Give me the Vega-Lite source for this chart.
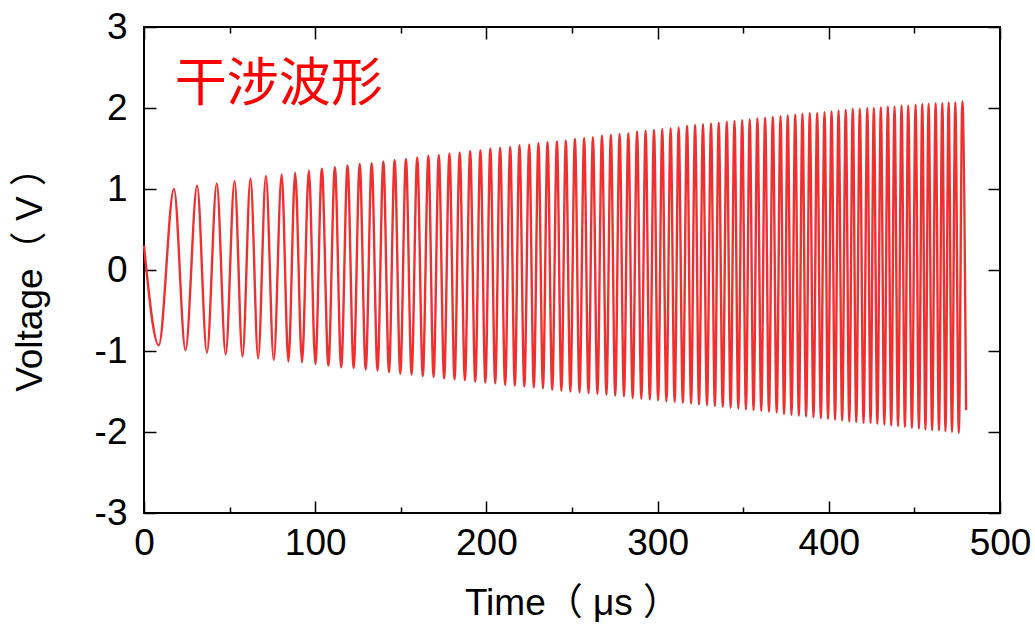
{
  "$schema": "https://vega.github.io/schema/vega-lite/v6.json",
  "width": 856,
  "height": 486,
  "autosize": {"type": "none"},
  "padding": {"left": 144, "top": 27, "right": 35, "bottom": 111},
  "background": "white",
  "config": {
    "view": {"stroke": "#000", "strokeWidth": 2},
    "axis": {
      "domain": false, "grid": false,
      "labelFont": "Liberation Sans", "labelFontSize": 37, "labelColor": "#000",
      "labelOverlap": false, "labelFlush": false,
      "titleFont": "Liberation Sans, Noto Sans CJK JP", "titleFontSize": 37,
      "titleFontWeight": "normal", "titleColor": "#000",
      "tickColor": "#000", "tickWidth": 1.5
    }
  },
  "resolve": {"axis": {"x": "independent", "y": "independent"}},
  "datasets": {
    "wave": [
      {"t":0,"v":0.3},{"t":8.6,"v":-0.93},
      {"t":17.5,"v":1.0},{"t":24.25,"v":-0.99},
      {"t":31.0,"v":1.04},{"t":36.75,"v":-1.02},
      {"t":42.5,"v":1.07},{"t":47.7,"v":-1.04},
      {"t":52.9,"v":1.10},{"t":57.55,"v":-1.07},
      {"t":62.2,"v":1.13},{"t":66.7,"v":-1.09},
      {"t":71.2,"v":1.16},{"t":75.8,"v":-1.11},
      {"t":80.4,"v":1.18},{"t":84.35,"v":-1.13},
      {"t":88.3,"v":1.20},{"t":92.3,"v":-1.14},
      {"t":96.3,"v":1.23},{"t":100.1,"v":-1.16},
      {"t":103.9,"v":1.25},{"t":107.7,"v":-1.18},
      {"t":111.5,"v":1.27},{"t":115.2,"v":-1.20},
      {"t":118.9,"v":1.29},{"t":122.45,"v":-1.21},
      {"t":126.0,"v":1.31},{"t":129.5,"v":-1.23},
      {"t":133.0,"v":1.32},{"t":136.4,"v":-1.24},
      {"t":139.8,"v":1.34},{"t":143.1,"v":-1.26},
      {"t":146.4,"v":1.36},{"t":149.7,"v":-1.28},
      {"t":153.0,"v":1.37},{"t":156.3,"v":-1.29},
      {"t":159.6,"v":1.39},{"t":162.85,"v":-1.31},
      {"t":166.1,"v":1.41},{"t":169.15,"v":-1.32},
      {"t":172.2,"v":1.42},{"t":175.3,"v":-1.34},
      {"t":178.4,"v":1.44},{"t":181.4,"v":-1.35},
      {"t":184.4,"v":1.45},{"t":187.45,"v":-1.36},
      {"t":190.5,"v":1.47},{"t":193.5,"v":-1.38},
      {"t":196.5,"v":1.48},{"t":199.4,"v":-1.39},
      {"t":202.3,"v":1.50},{"t":205.15,"v":-1.40},
      {"t":208.0,"v":1.51},{"t":210.95,"v":-1.42},
      {"t":213.9,"v":1.52},{"t":216.6,"v":-1.43},
      {"t":219.3,"v":1.54},{"t":222.15,"v":-1.44},
      {"t":225.0,"v":1.55},{"t":227.7,"v":-1.45},
      {"t":230.4,"v":1.57},{"t":233.05,"v":-1.46},
      {"t":235.7,"v":1.58},{"t":238.45,"v":-1.48},
      {"t":241.2,"v":1.59},{"t":243.8,"v":-1.49},
      {"t":246.4,"v":1.60},{"t":249.05,"v":-1.50},
      {"t":251.7,"v":1.62},{"t":254.4,"v":-1.51},
      {"t":257.1,"v":1.63},{"t":259.65,"v":-1.52},
      {"t":262.2,"v":1.64},{"t":264.85,"v":-1.53},
      {"t":267.5,"v":1.66},{"t":270.1,"v":-1.54},
      {"t":272.7,"v":1.67},{"t":275.25,"v":-1.55},
      {"t":277.8,"v":1.68},{"t":280.35,"v":-1.56},
      {"t":282.9,"v":1.69},{"t":285.45,"v":-1.58},
      {"t":288.0,"v":1.71},{"t":290.5,"v":-1.59},
      {"t":293.0,"v":1.72},{"t":295.45,"v":-1.60},
      {"t":297.9,"v":1.73},{"t":300.3,"v":-1.61},
      {"t":302.7,"v":1.74},{"t":305.15,"v":-1.62},
      {"t":307.6,"v":1.75},{"t":309.95,"v":-1.63},
      {"t":312.3,"v":1.76},{"t":314.75,"v":-1.64},
      {"t":317.2,"v":1.78},{"t":319.55,"v":-1.65},
      {"t":321.9,"v":1.79},{"t":324.2,"v":-1.66},
      {"t":326.5,"v":1.80},{"t":328.85,"v":-1.67},
      {"t":331.2,"v":1.81},{"t":333.45,"v":-1.68},
      {"t":335.7,"v":1.82},{"t":338.05,"v":-1.69},
      {"t":340.4,"v":1.83},{"t":342.65,"v":-1.70},
      {"t":344.9,"v":1.84},{"t":347.15,"v":-1.71},
      {"t":349.4,"v":1.85},{"t":351.6,"v":-1.72},
      {"t":353.8,"v":1.86},{"t":356.05,"v":-1.73},
      {"t":358.3,"v":1.87},{"t":360.55,"v":-1.74},
      {"t":362.8,"v":1.88},{"t":365.05,"v":-1.75},
      {"t":367.3,"v":1.89},{"t":369.55,"v":-1.76},
      {"t":371.8,"v":1.90},{"t":373.9,"v":-1.78},
      {"t":376.0,"v":1.91},{"t":378.2,"v":-1.79},
      {"t":380.4,"v":1.92},{"t":382.5,"v":-1.80},
      {"t":384.6,"v":1.93},{"t":386.75,"v":-1.81},
      {"t":388.9,"v":1.94},{"t":391.05,"v":-1.82},
      {"t":393.2,"v":1.94},{"t":395.35,"v":-1.83},
      {"t":397.5,"v":1.95},{"t":399.55,"v":-1.84},
      {"t":401.6,"v":1.96},{"t":403.65,"v":-1.85},
      {"t":405.7,"v":1.97},{"t":407.8,"v":-1.86},
      {"t":409.9,"v":1.98},{"t":411.95,"v":-1.87},
      {"t":414.0,"v":1.99},{"t":416.05,"v":-1.88},
      {"t":418.1,"v":1.99},{"t":420.3,"v":-1.89},
      {"t":422.5,"v":2.00},{"t":424.4,"v":-1.89},
      {"t":426.3,"v":2.00},{"t":428.35,"v":-1.90},
      {"t":430.4,"v":2.01},{"t":432.45,"v":-1.91},
      {"t":434.5,"v":2.02},{"t":436.45,"v":-1.92},
      {"t":438.4,"v":2.02},{"t":440.45,"v":-1.93},
      {"t":442.5,"v":2.03},{"t":444.45,"v":-1.94},
      {"t":446.4,"v":2.03},{"t":448.55,"v":-1.95},
      {"t":450.7,"v":2.04},{"t":452.65,"v":-1.96},
      {"t":454.6,"v":2.05},{"t":456.45,"v":-1.97},
      {"t":458.3,"v":2.05},{"t":460.35,"v":-1.98},
      {"t":462.4,"v":2.06},{"t":464.35,"v":-1.98},
      {"t":466.3,"v":2.06},{"t":468.15,"v":-1.99},
      {"t":470.0,"v":2.07},{"t":471.95,"v":-2.00},
      {"t":473.9,"v":2.07},{"t":475.95,"v":-2.01},
      {"t":478.0,"v":2.08},{"t":480.2,"v":-1.73}
    ],
    "note": [{"label": "干涉波形", "t": 18, "v": 2.28}]
  },
  "layer": [
    {
      "data": {"name": "wave"},
      "mark": {"type": "line", "interpolate": "monotone", "color": "#f03030", "strokeWidth": 2.4},
      "encoding": {
        "x": {"field": "t", "type": "quantitative",
              "scale": {"domain": [0, 500], "nice": false, "zero": false},
              "axis": {"orient": "bottom", "values": [0, 100, 200, 300, 400, 500], "tickSize": -12,
                       "labelPadding": 24, "labelExpr": "'' + datum.value",
                       "title": "Time（ μs ）", "titlePadding": 24}},
        "y": {"field": "v", "type": "quantitative",
              "scale": {"domain": [-3, 3], "nice": false, "zero": false},
              "axis": {"orient": "left", "values": [-3, -2, -1, 0, 1, 2, 3], "tickSize": -12,
                       "labelPadding": 29, "labelExpr": "'' + datum.value",
                       "title": "Voltage（ V ）", "titlePadding": 45}}
      }
    },
    {
      "data": {"name": "wave"},
      "mark": {"type": "line", "opacity": 0},
      "encoding": {
        "x": {"field": "t", "type": "quantitative",
              "scale": {"domain": [0, 500], "nice": false, "zero": false},
              "axis": {"orient": "top", "values": [0, 100, 200, 300, 400, 500], "tickSize": -12,
                       "labels": false, "title": null}},
        "y": {"field": "v", "type": "quantitative",
              "scale": {"domain": [-3, 3], "nice": false, "zero": false},
              "axis": {"orient": "right", "values": [-3, -2, -1, 0, 1, 2, 3], "tickSize": -12,
                       "labels": false, "title": null}}
      }
    },
    {
      "data": {"name": "wave"},
      "mark": {"type": "line", "opacity": 0},
      "encoding": {
        "x": {"field": "t", "type": "quantitative",
              "scale": {"domain": [0, 500], "nice": false, "zero": false},
              "axis": {"orient": "bottom", "values": [50, 150, 250, 350, 450], "tickSize": -6,
                       "labels": false, "title": null}},
        "y": {"field": "v", "type": "quantitative", "axis": null}
      }
    },
    {
      "data": {"name": "wave"},
      "mark": {"type": "line", "opacity": 0},
      "encoding": {
        "x": {"field": "t", "type": "quantitative",
              "scale": {"domain": [0, 500], "nice": false, "zero": false},
              "axis": {"orient": "top", "values": [50, 150, 250, 350, 450], "tickSize": -6,
                       "labels": false, "title": null}},
        "y": {"field": "v", "type": "quantitative", "axis": null}
      }
    },
    {
      "data": {"name": "note"},
      "mark": {"type": "text", "align": "left", "baseline": "middle", "font": "Noto Sans CJK SC",
               "fontSize": 52, "color": "#ff0000"},
      "encoding": {
        "x": {"field": "t", "type": "quantitative", "axis": null},
        "y": {"field": "v", "type": "quantitative", "axis": null},
        "text": {"field": "label"}
      }
    }
  ]
}
